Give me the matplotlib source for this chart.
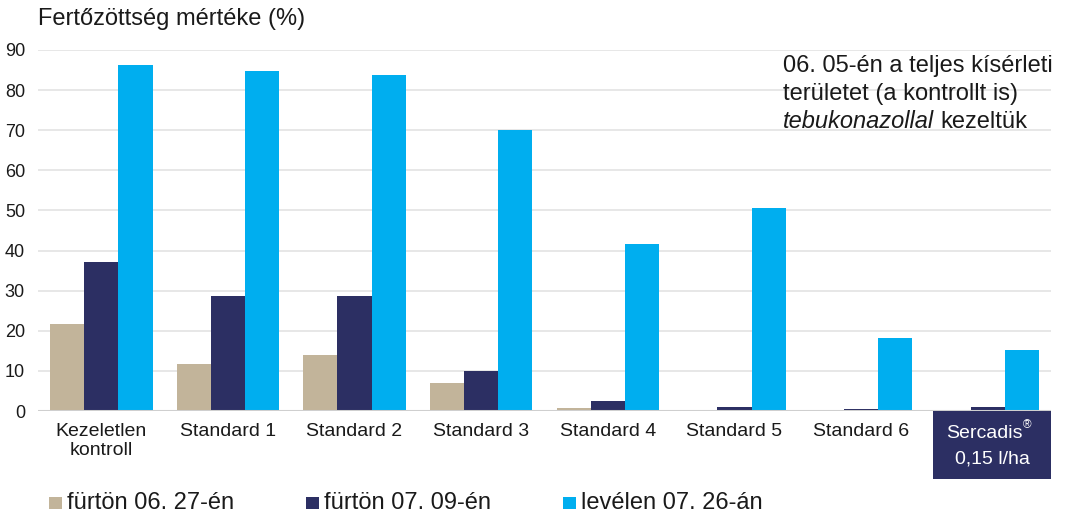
import matplotlib
matplotlib.use("Agg")
import matplotlib.pyplot as plt
from matplotlib.patches import Rectangle
import numpy as np

plt.rcParams['font.family'] = ['Liberation Sans', 'DejaVu Sans']

categories = ["Kezeletlen\nkontroll", "Standard 1", "Standard 2", "Standard 3",
              "Standard 4", "Standard 5", "Standard 6", "Sercadis"]
series_names = ["fürtön 06. 27-én", "fürtön 07. 09-én", "levélen 07. 26-án"]
furt_0627 = [21.7, 11.7, 14.0, 7.0, 0.8, 0.3, 0.1, 0.1]
furt_0709 = [37.1, 28.7, 28.7, 10.0, 2.5, 1.0, 0.4, 1.1]
level_0726 = [86.3, 84.8, 83.8, 70.1, 41.6, 50.6, 18.2, 15.2]
yticks = [0, 10, 20, 30, 40, 50, 60, 70, 80, 90]

colors = ["#C2B49A", "#2C2F63", "#00AEEF"]
series = [furt_0627, furt_0709, level_0726]
TXT = "#1a1a1a"

W, H = 1065, 515
fig = plt.figure(figsize=(W / 100, H / 100), dpi=100)
AX_L, AX_R, AX_B, AX_T = 38, 1051, 411, 50
ax = fig.add_axes([AX_L / W, 1 - AX_B / H, (AX_R - AX_L) / W, (AX_B - AX_T) / H])

x = np.arange(len(categories))
bw = 0.27
for i, (vals, col) in enumerate(zip(series, colors)):
    ax.bar(x + (i - 1) * bw, vals, width=bw, color=col, zorder=3)

ax.set_xlim(-0.5, len(categories) - 0.5)
ax.set_ylim(0, 90)
ax.set_yticks(yticks)
ax.yaxis.grid(True, color="#e3e3e3", linewidth=1.2, zorder=0)
ax.set_axisbelow(True)
for s in ["top", "right", "left", "bottom"]:
    ax.spines[s].set_visible(False)
ax.axhline(0, color="#cfcfcf", linewidth=2.2, zorder=4)
ax.tick_params(axis="y", length=0, labelsize=13, colors=TXT, pad=9.4)

ax.set_xticks(x)
labels = list(categories[:-1]) + [""]
ax.set_xticklabels(labels, fontsize=14, color=TXT, linespacing=1.1)
ax.tick_params(axis="x", length=0, pad=9)

# highlighted product label box
px_y = 90 / (AX_B - AX_T)  # data units per pixel on the y axis
bx0 = (933 - AX_L) / (AX_R - AX_L)
box = Rectangle((bx0, -(479 - AX_B) / (AX_B - AX_T)), 1 - bx0, (479 - AX_B) / (AX_B - AX_T),
                transform=ax.transAxes, facecolor="#2C2F63", edgecolor="none",
                clip_on=False, zorder=5)
ax.add_patch(box)
name_t = ax.text(x[-1] - 0.03, -(438 - AX_B) * px_y, categories[-1], ha="center",
                 va="baseline", color="white", fontsize=14, zorder=6, clip_on=False)
ax.text(x[-1] + 0.04, -(463 - AX_B) * px_y, "0,15 l/ha", ha="center", va="baseline",
        color="white", fontsize=14, zorder=6, clip_on=False)

fig.text(38 / W, 1 - 25 / H, "Fertőzöttség mértéke (%)", fontsize=17,
         ha="left", va="baseline", color=TXT)

note_y = [72, 100, 128]
fig.text(783 / W, 1 - note_y[0] / H, "06. 05-én a teljes kísérleti", fontsize=17,
         ha="left", va="baseline", color=TXT)
fig.text(783 / W, 1 - note_y[1] / H, "területet (a kontrollt is)", fontsize=17,
         ha="left", va="baseline", color=TXT)
t1 = fig.text(783 / W, 1 - note_y[2] / H, "tebukonazollal", fontsize=17, style="italic",
              ha="left", va="baseline", color=TXT)
fig.canvas.draw()
bb = t1.get_window_extent()
fig.text((bb.x1 + 6) / W, 1 - note_y[2] / H, "kezeltük", fontsize=17,
         ha="left", va="baseline", color=TXT)

# small registered mark after the product name
nb = name_t.get_window_extent()
fig.text((nb.x1 + 1) / W, 1 - 428 / H, "®", fontsize=8.5, ha="left",
         va="baseline", color="white", zorder=7)

# legend
leg_x = [49, 306, 563]
for name, col, lx in zip(series_names, colors, leg_x):
    fig.patches.append(Rectangle((lx / W, 1 - 509 / H), 13 / W, 12 / H,
                                 transform=fig.transFigure, facecolor=col,
                                 edgecolor="none"))
    fig.text((lx + 18) / W, 1 - 509 / H, name, fontsize=17, ha="left",
             va="baseline", color=TXT)

fig.savefig("out.png", dpi=100)
